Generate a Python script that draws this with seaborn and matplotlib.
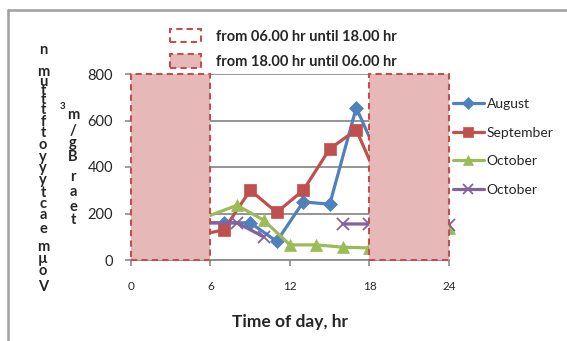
import numpy as np
import pandas as pd
import seaborn as sns
import matplotlib.pyplot as plt
from matplotlib.patches import Rectangle, Patch
from matplotlib.lines import Line2D

sns.set_theme(style="white")
plt.rcParams['font.family'] = ['Lato', 'DejaVu Sans']

# Hourly readings per month
aug_hours = [5, 7, 9, 11, 13, 15, 17, 19]
aug_vals = [160, 160, 160, 80, 250, 240, 655, 400]
sep_hours = [5, 7, 9, 11, 13, 15, 17, 19]
sep_vals = [105, 130, 300, 205, 300, 478, 560, 300]
oct_hours = [4, 8, 10, 12, 14, 16, 18, 24]
oct_vals = [150, 235, 172, 65, 65, 55, 52, 138]
oct2_hours = [4, 8, 10, 16, 18, 24]
oct2_vals = [160, 160, 100, 155, 155, 151]
oct2_run = [1, 1, 1, 2, 2, 2]

series_names = ["August", "September", "October", "October"]
x_ticks = [0, 6, 12, 18, 24]
y_ticks = [0, 200, 400, 600, 800]
night_spans = [(0, 6), (18, 24)]
band_labels = ["from 06.00 hr until 18.00 hr", "from 18.00 hr until 06.00 hr"]

colors = ["#4F81BD", "#C0504D", "#9BBB59", "#8064A2"]
markers = ["D", "s", "^", "x"]
msizes = [7, 8, 8, 8]

W, H = 567, 341
fig = plt.figure(figsize=(W / 100, H / 100), dpi=100)
ax = fig.add_axes([131 / W, 1 - 260 / H, (449 - 131) / W, (260 - 74) / H])

frames = [
    pd.DataFrame({"hour": aug_hours, "value": aug_vals, "run": 1}),
    pd.DataFrame({"hour": sep_hours, "value": sep_vals, "run": 1}),
    pd.DataFrame({"hour": oct_hours, "value": oct_vals, "run": 1}),
    pd.DataFrame({"hour": oct2_hours, "value": oct2_vals, "run": oct2_run}),
]
for df, c, m, ms in zip(frames, colors, markers, msizes):
    sns.lineplot(data=df, x="hour", y="value", units="run", estimator=None,
                 color=c, marker=m, markersize=ms, linewidth=2.3,
                 markeredgecolor=c, markeredgewidth=1.3 if m == "x" else 0.5,
                 ax=ax, legend=False, zorder=3)
for ln in ax.lines:
    ln.set_clip_on(False)

# Night-time bands
for x0, x1 in night_spans:
    ax.add_patch(Rectangle((x0, 0), x1 - x0, 800, facecolor="#E6B9B8",
                           edgecolor="#C0504D", linestyle=(0, (3, 2)),
                           linewidth=1.5, zorder=5, clip_on=False))

ax.set_xlim(0, 24)
ax.set_ylim(0, 800)
ax.set_xticks(x_ticks)
ax.set_yticks(y_ticks)
ax.yaxis.grid(True, color="#8C8C8C", linewidth=1.3)
ax.set_axisbelow(True)
for s in ["top", "right", "left"]:
    ax.spines[s].set_visible(False)
ax.spines["bottom"].set_color("#8C8C8C")
ax.spines["bottom"].set_linewidth(1.3)
ax.tick_params(axis="x", direction="out", length=4, width=1.2, color="#8C8C8C",
               pad=11, labelsize=8.5, bottom=True)
ax.tick_params(axis="y", direction="out", length=4, width=1.2, color="#8C8C8C",
               pad=9, labelsize=10.5, left=True)
ax.set_xlabel("Time of day, hr", fontsize=12.5, fontweight="bold", labelpad=16)
ax.set_ylabel("")

# Series legend
handles = [Line2D([], [], color=c, marker=m, markersize=ms - 1, linewidth=2.3,
                  markeredgewidth=1.3 if m == "x" else 0.5)
           for c, m, ms in zip(colors, markers, msizes)]
fig.legend(handles, series_names, loc="center left",
           bbox_to_anchor=(440 / W, 1 - 147 / H), frameon=False,
           fontsize=10, handlelength=2.3, handletextpad=0.15,
           labelspacing=1.2)

# Day / night legend
band_handles = [
    Patch(facecolor="white", edgecolor="#C0504D", linestyle=(0, (3, 2)), linewidth=1.5),
    Patch(facecolor="#E6B9B8", edgecolor="#C0504D", linestyle=(0, (3, 2)), linewidth=1.5),
]
fig.legend(band_handles, band_labels, loc="center left",
           bbox_to_anchor=(157 / W, 1 - 49 / H), frameon=False,
           handlelength=2.1, handleheight=1.0, handletextpad=1.05,
           labelspacing=0.75, prop={"weight": "bold", "size": 10.5})

# Stacked y-axis caption, one glyph at a time
col1 = [("n", 50), ("m", 72), ("u", 82), ("t", 91), ("t", 100), ("t", 110),
        ("f", 122), ("t", 133), ("o", 145), ("y", 157), ("y", 168), ("y", 180),
        ("t", 193), ("c", 204), ("a", 215), ("e", 229), ("m", 247), ("µ", 259),
        ("o", 271), ("V", 287)]
col2 = [("m", 115), ("/", 131), ("g", 143), ("B", 157), ("r", 177), ("a", 192),
        ("e", 207), ("t", 220)]
for ch, yy in col1:
    fig.text(43 / W, 1 - yy / H, ch, ha="center", va="center",
             fontsize=10.5, fontweight="bold")
for ch, yy in col2:
    fig.text(73 / W, 1 - yy / H, ch, ha="center", va="center",
             fontsize=10.5, fontweight="bold")
fig.text(63 / W, 1 - 107 / H, "3", ha="center", va="center",
         fontsize=7, fontweight="bold")

# Chart border
fig.add_artist(Line2D([8 / W, 8 / W], [0, 1 - 10 / H], color="#A0A0A0",
                      linewidth=1.8, transform=fig.transFigure))
fig.add_artist(Line2D([8 / W, 1], [1 - 10 / H, 1 - 10 / H], color="#A0A0A0",
                      linewidth=1.8, transform=fig.transFigure))

fig.savefig("out.png", dpi=100)
